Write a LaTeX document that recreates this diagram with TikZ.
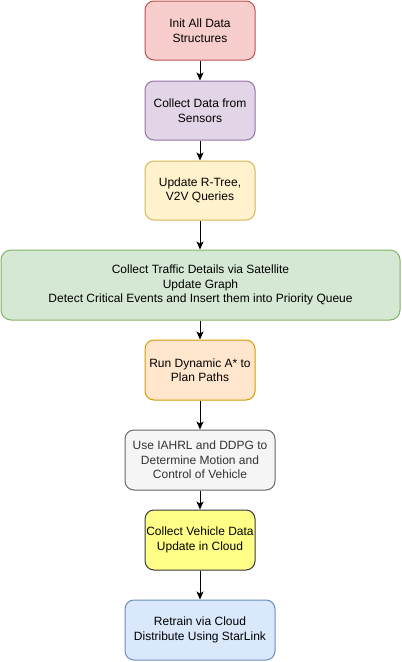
\documentclass[tikz,border=0pt]{standalone}
\usepackage{fontspec}
\setmainfont{Liberation Sans}
\usetikzlibrary{arrows.meta}
\definecolor{redF}{HTML}{F8CECC}\definecolor{redD}{HTML}{B85450}
\definecolor{purF}{HTML}{E1D5E7}\definecolor{purD}{HTML}{9673A6}
\definecolor{yelF}{HTML}{FFF2CC}\definecolor{yelD}{HTML}{D6B656}
\definecolor{grnF}{HTML}{D5E8D4}\definecolor{grnD}{HTML}{82B366}
\definecolor{orgF}{HTML}{FFE6CC}\definecolor{orgD}{HTML}{D79B00}
\definecolor{gryF}{HTML}{F5F5F5}\definecolor{gryD}{HTML}{666666}\definecolor{gryT}{HTML}{333333}
\definecolor{lmnF}{HTML}{FFFF88}\definecolor{lmnD}{HTML}{36393D}
\definecolor{bluF}{HTML}{DAE8FC}\definecolor{bluD}{HTML}{6C8EBF}
\tikzset{
  boxstyle/.style={draw, line width=1pt, rounded corners=9pt, align=center,
    inner sep=0pt, font=\fontsize{12}{14.5}\selectfont},
  flowarrow/.style={draw, line width=1pt, -{Stealth[length=8pt,width=7pt,inset=2pt]}}
}
\begin{document}
\begin{tikzpicture}[x=1pt,y=-1pt]
\useasboundingbox (0,0) rectangle (402,662);
\node[boxstyle, fill=redF, draw=redD, minimum width=110pt, minimum height=59pt] (n1) at (200,30.5) {Init All Data\\Structures};
\node[boxstyle, fill=purF, draw=purD, minimum width=110pt, minimum height=59pt] (n2) at (200,110.5) {Collect Data from\\Sensors};
\node[boxstyle, fill=yelF, draw=yelD, minimum width=110pt, minimum height=59pt] (n3) at (200,190.5) {Update R-Tree,\\V2V Queries};
\node[boxstyle, fill=grnF, draw=grnD, minimum width=399pt, minimum height=70pt, rounded corners=10pt] (n4) at (200.5,285) {Collect Traffic Details via Satellite\\Update Graph\\Detect Critical Events and Insert them into Priority Queue};
\node[boxstyle, fill=orgF, draw=orgD, minimum width=110pt, minimum height=60pt] (n5) at (200,370) {Run Dynamic A* to\\Plan Paths};
\node[boxstyle, fill=gryF, draw=gryD, text=gryT, minimum width=150pt, minimum height=60pt] (n6) at (200,460) {Use IAHRL and DDPG to\\Determine Motion and\\Control of Vehicle};
\node[boxstyle, fill=lmnF, draw=lmnD, minimum width=110pt, minimum height=60pt] (n7) at (200,540) {Collect Vehicle Data\\Update in Cloud};
\node[boxstyle, fill=bluF, draw=bluD, minimum width=150pt, minimum height=60pt] (n8) at (200,630) {Retrain via Cloud\\Distribute Using StarLink};
\draw[flowarrow] (n1) -- (n2);
\draw[flowarrow] (n2) -- (n3);
\draw[flowarrow] (n3) -- (n3 |- n4.north);
\draw[flowarrow] (n4.south -| n5) -- (n5);
\draw[flowarrow] (n5) -- (n6);
\draw[flowarrow] (n6) -- (n7);
\draw[flowarrow] (n7) -- (n8);
\end{tikzpicture}
\end{document}
